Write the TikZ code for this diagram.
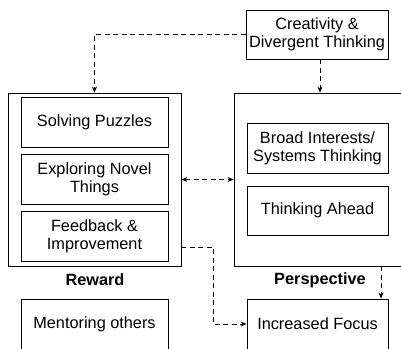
\documentclass[tikz,border=0pt]{standalone}
\usepackage{fontspec}
\setmainfont{Liberation Sans}
\usetikzlibrary{arrows.meta}
\begin{document}
\begin{tikzpicture}[x=1pt,y=-1pt,
  box/.style={draw, line width=0.9pt, inner sep=0pt, align=center, font=\fontsize{16.3}{18.4}\selectfont},
  conn/.style={line width=0.9pt, dash pattern=on 5pt off 3.5pt, -{Stealth[length=6pt,width=5pt]}},
  lbl/.style={inner sep=0pt, font=\fontsize{16.3}{18.4}\selectfont\bfseries}]
\useasboundingbox (0,0) rectangle (401,348);
\clip (0,0) rectangle (401,348);
% outer groups
\node[box, minimum width=173pt, minimum height=173pt] (reward) at (94.5,179.5) {};
\node[box, minimum width=186pt, minimum height=173pt] (persp) at (327,179.5) {};
% top
\node[box, minimum width=142pt, minimum height=49pt] (crea) at (317,34.5) {Creativity \&\\Divergent Thinking};
% reward inner
\node[box, minimum width=147pt, minimum height=50pt] (solve) at (94.5,122) {Solving Puzzles};
\node[box, minimum width=147pt, minimum height=50pt] (explore) at (94.5,179) {Exploring Novel\\Things};
\node[box, minimum width=147pt, minimum height=50pt] (feed) at (94.5,236) {Feedback \&\\Improvement};
% perspective inner
\node[box, minimum width=141pt, minimum height=50pt] (broad) at (317.5,148) {Broad Interests/\\Systems Thinking};
\node[box, minimum width=141pt, minimum height=49pt] (ahead) at (317.5,210.5) {Thinking Ahead};
% labels
\node[lbl] (rlab) at (95,280) {Reward};
\node[lbl] (plab) at (320,280) {Perspective};
% bottom
\node[box, minimum width=147pt, minimum height=50pt] (mentor) at (94.5,324) {Mentoring others};
\node[box, minimum width=141pt, minimum height=50pt] (focus) at (317.5,324) {Increased Focus};
% connectors
\coordinate (px) at (381,0);
\coordinate (fb) at (181,247);
\draw[conn] (crea.west) -| (reward.north);
\draw[conn] ([xshift=3pt]crea.south) -- ([xshift=3pt]crea.south |- persp.north);
\draw[conn, {Stealth[length=6pt,width=5pt]}-{Stealth[length=6pt,width=5pt]}] (reward.east) -- (persp.west);
\draw[conn] (fb) -- ++(32,0) |- (focus.west);
\draw[conn] (persp.south -| px) -- (focus.north -| px);
\end{tikzpicture}
\end{document}
